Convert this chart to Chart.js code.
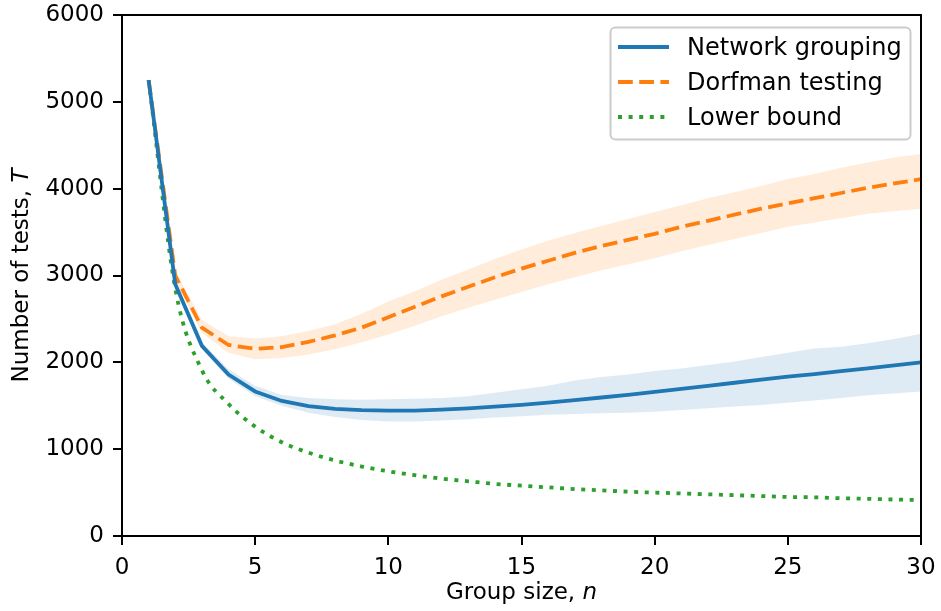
<!DOCTYPE html>
<html>
<head>
<meta charset="utf-8">
<title>Number of tests vs group size</title>
<script src="https://cdn.jsdelivr.net/npm/chart.js@4.4.1/dist/chart.umd.min.js"></script>
<style>
html,body{margin:0;padding:0;background:#fff;}
</style>
</head>
<body>
<canvas id="myChart" width="941" height="611"></canvas>
<script>
// group sizes n
var groupSizes = [1, 2, 3, 4, 5, 6, 7, 8, 9, 10, 11, 12, 13, 14, 15, 16, 17, 18, 19, 20, 21, 22, 23, 24, 25, 26, 27, 28, 29, 30];
// network grouping: mean and spread
var networkMean = [5250, 2900, 2190, 1860, 1665, 1555, 1495, 1465, 1450, 1445, 1445, 1455, 1470, 1490, 1510, 1535, 1565, 1595, 1625, 1660, 1695, 1730, 1765, 1800, 1835, 1865, 1900, 1930, 1965, 2000];
var networkHigh = [5250, 2930, 2230, 1920, 1730, 1625, 1590, 1575, 1570, 1575, 1580, 1590, 1610, 1650, 1690, 1730, 1790, 1830, 1860, 1900, 1930, 1970, 2010, 2060, 2110, 2160, 2180, 2220, 2270, 2330];
var networkLow = [5250, 2880, 2160, 1810, 1610, 1500, 1420, 1370, 1335, 1320, 1320, 1330, 1345, 1365, 1380, 1395, 1405, 1415, 1420, 1430, 1450, 1470, 1490, 1510, 1535, 1560, 1590, 1620, 1640, 1665];
// Dorfman testing: mean and spread
var dorfmanMean = [5250, 3000, 2400, 2200, 2155, 2175, 2235, 2310, 2400, 2520, 2640, 2760, 2870, 2980, 3080, 3170, 3260, 3340, 3410, 3480, 3560, 3630, 3700, 3770, 3830, 3890, 3950, 4010, 4060, 4110];
var dorfmanHigh = [5250, 3050, 2490, 2300, 2275, 2300, 2360, 2440, 2560, 2700, 2820, 2950, 3070, 3190, 3300, 3400, 3490, 3570, 3650, 3730, 3810, 3890, 3960, 4030, 4110, 4170, 4240, 4300, 4360, 4400];
var dorfmanLow = [5250, 2950, 2340, 2110, 2035, 2050, 2090, 2150, 2230, 2320, 2420, 2530, 2630, 2720, 2810, 2900, 2980, 3060, 3130, 3200, 3280, 3350, 3420, 3490, 3560, 3610, 3660, 3710, 3740, 3770];
// lower bound
var lowerBound = [5250, 2850, 1910, 1520, 1260, 1080, 960, 870, 800, 745, 700, 660, 630, 600, 580, 560, 540, 525, 510, 500, 490, 480, 470, 460, 450, 445, 435, 428, 420, 415];

var BLUE = '#1f77b4', ORANGE = '#ff7f0e', GREEN = '#2ca02c';
var FONT = '"DejaVu Sans", "Liberation Sans", sans-serif';
var FSIZE = 23;
var LEG_FSIZE = 24;
var LW = 3.8;

function pts(vals){
	return groupSizes.map(function(n, i){ return {x: n, y: vals[i]}; });
}

//坐标框上、右两边 + 轴标题 + 图例
var framePlugin = {
	id: 'frame',
	afterDraw: function(chart){
		var ctx = chart.ctx, a = chart.chartArea;
		ctx.save();
		ctx.strokeStyle = '#000';
		ctx.lineWidth = 2;
		ctx.beginPath();
		ctx.moveTo(a.left, a.top);
		ctx.lineTo(a.right, a.top);
		ctx.lineTo(a.right, a.bottom);
		ctx.stroke();

		// x title
		ctx.fillStyle = '#000';
		ctx.textBaseline = 'middle';
		var p1 = 'Group size, ', p2 = 'n';
		ctx.font = FSIZE + 'px ' + FONT;
		var w1 = ctx.measureText(p1).width;
		ctx.font = 'italic ' + FSIZE + 'px ' + FONT;
		var w2 = ctx.measureText(p2).width;
		var cx = (a.left + a.right) / 2, sx = cx - (w1 + w2) / 2;
		ctx.textAlign = 'left';
		ctx.font = FSIZE + 'px ' + FONT;
		ctx.fillText(p1, sx, 593);
		ctx.font = 'italic ' + FSIZE + 'px ' + FONT;
		ctx.fillText(p2, sx + w1, 593);

		// y title
		ctx.save();
		ctx.translate(22, (a.top + a.bottom) / 2);
		ctx.rotate(-Math.PI / 2);
		var q1 = 'Number of tests, ', q2 = 'T';
		ctx.font = FSIZE + 'px ' + FONT;
		var v1 = ctx.measureText(q1).width;
		ctx.font = 'italic ' + FSIZE + 'px ' + FONT;
		var v2 = ctx.measureText(q2).width;
		var sy = -(v1 + v2) / 2;
		ctx.font = FSIZE + 'px ' + FONT;
		ctx.fillText(q1, sy, 0);
		ctx.font = 'italic ' + FSIZE + 'px ' + FONT;
		ctx.fillText(q2, sy + v1, 0);
		ctx.restore();

		// legend
		var items = chart.data.datasets.filter(function(d){ return d.label; });
		ctx.beginPath();
		ctx.roundRect(610.5, 27.5, 300, 112, 5);
		ctx.fillStyle = 'rgba(255,255,255,0.8)';
		ctx.fill();
		ctx.strokeStyle = '#cccccc';
		ctx.lineWidth = 2;
		ctx.stroke();
		items.forEach(function(d, i){
			var y = 47 + i * 35;
			ctx.beginPath();
			ctx.setLineDash(d.borderDash || []);
			ctx.lineCap = 'butt';
			ctx.strokeStyle = d.borderColor;
			ctx.lineWidth = LW;
			ctx.moveTo(618, y);
			ctx.lineTo(669, y);
			ctx.stroke();
			ctx.setLineDash([]);
			ctx.fillStyle = '#000';
			ctx.font = LEG_FSIZE + 'px ' + FONT;
			ctx.textAlign = 'left';
			ctx.fillText(d.label, 687, y + 2);
		});
		ctx.restore();
	}
};

var ctx1 = document.getElementById('myChart');
var myLineChart = new Chart(ctx1, {
	type: 'line',
	data: {
		datasets: [{
			data: pts(networkHigh),
			fill: '+1',
			backgroundColor: 'rgba(31,119,180,0.15)',
			borderWidth: 0,
			pointRadius: 0,
			order: 3
		}, {
			data: pts(networkLow),
			fill: false,
			borderWidth: 0,
			pointRadius: 0,
			order: 3
		}, {
			data: pts(dorfmanHigh),
			fill: '+1',
			backgroundColor: 'rgba(255,127,14,0.15)',
			borderWidth: 0,
			pointRadius: 0,
			order: 3
		}, {
			data: pts(dorfmanLow),
			fill: false,
			borderWidth: 0,
			pointRadius: 0,
			order: 3
		}, {
			label: 'Network grouping',
			data: pts(networkMean),
			borderColor: BLUE,
			borderWidth: LW,
			pointRadius: 0,
			fill: false,
			order: 0
		}, {
			label: 'Dorfman testing',
			data: pts(dorfmanMean),
			borderColor: ORANGE,
			borderWidth: LW,
			borderDash: [14.8, 6.4],
			pointRadius: 0,
			fill: false,
			order: 1
		}, {
			label: 'Lower bound',
			data: pts(lowerBound),
			borderColor: GREEN,
			borderWidth: LW,
			borderDash: [4, 6.6],
			cubicInterpolationMode: 'monotone',
			pointRadius: 0,
			fill: false,
			order: 2
		}]
	},
	options: {
		responsive: false,
		animation: false,
		devicePixelRatio: 1,
		layout: {padding: {left: 0, right: 20, top: 15, bottom: 0}},
		plugins: {legend: {display: false}, tooltip: {enabled: false}},
		scales: {
			x: {
				type: 'linear',
				min: 0, max: 30,
				afterFit: function(s){ s.height = 75; s.paddingLeft = 0; s.paddingRight = 0; },
				ticks: {stepSize: 5, padding: 9, color: '#000', font: {family: FONT, size: FSIZE}, maxRotation: 0},
				grid: {drawOnChartArea: false, color: '#000', lineWidth: 2, tickLength: 9},
				border: {display: true, color: '#000', width: 2}
			},
			y: {
				min: 0, max: 6000,
				afterFit: function(s){ s.width = 122; s.paddingTop = 0; s.paddingBottom = 0; },
				ticks: {
					stepSize: 1000, padding: 9, color: '#000', font: {family: FONT, size: FSIZE},
					callback: function(v){ return String(v); }
				},
				grid: {drawOnChartArea: false, color: '#000', lineWidth: 2, tickLength: 9},
				border: {display: true, color: '#000', width: 2}
			}
		}
	},
	plugins: [framePlugin]
});
</script>
</body>
</html>
